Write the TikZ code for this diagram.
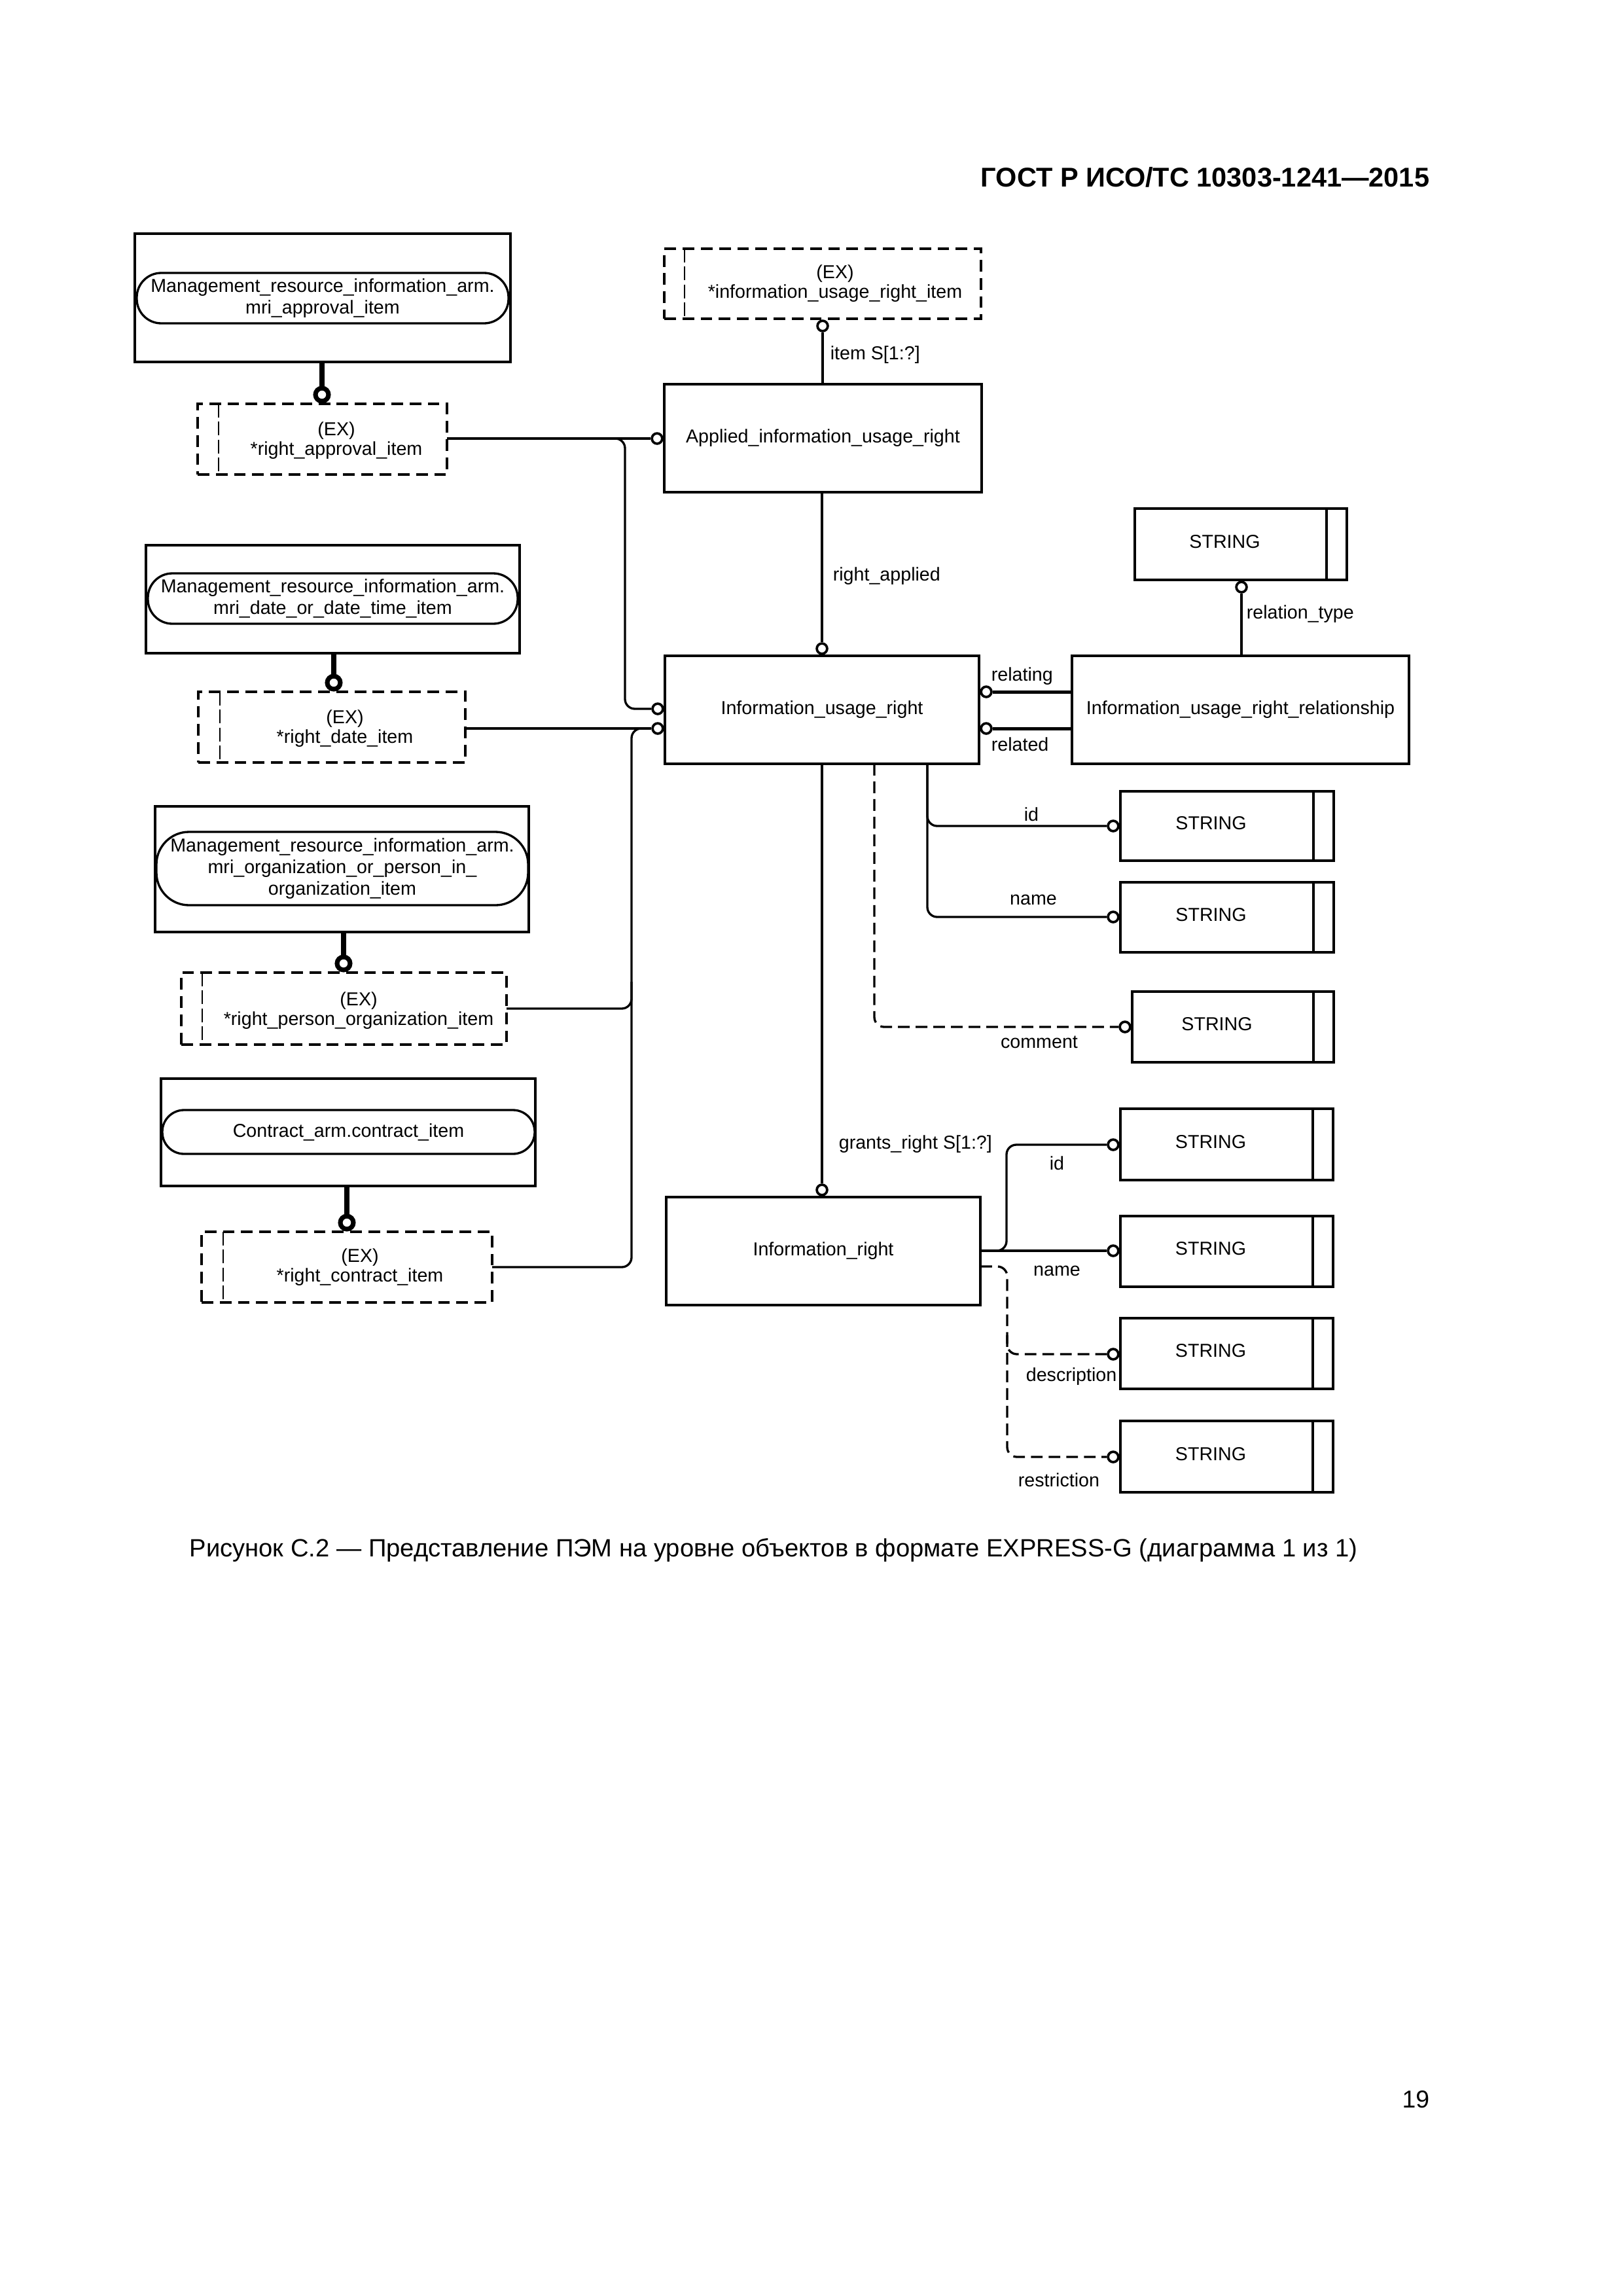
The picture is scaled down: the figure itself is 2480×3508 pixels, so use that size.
\documentclass[tikz,border=0pt]{standalone}
\usepackage{fontspec}
\setmainfont{Liberation Sans}
\usetikzlibrary{calc}
\newcommand\dgf{\fontsize{6.9}{8}\selectfont}
\newcommand\exf{\fontsize{6.9}{7.2}\selectfont}
\def\PX{0.0846667mm}
\newcommand\entbox[7][]{%
  \node[ent,#1,minimum width={(#5-#3)*\PX},minimum height={(#6-#4)*\PX}] (#2) at ({(#3+#5)/2},{(#4+#6)/2}) {#7};}
\newcommand\strbox[5]{%
  \node[ent,minimum width={(#4-#2)*\PX},minimum height={(#5-#3)*\PX}] (#1) at ({(#2+#4)/2},{(#3+#5)/2}) {};
  \draw[ln] ($(#1.north east)+(-31,0)$) -- ($(#1.south east)+(-31,0)$);
  \node[lbl] (#1t) at ({(#2+#4-31)/2-9},{(#3+#5)/2-4}) {STRING};}
\newcommand\exbox[9]{%
  \node[exb,minimum width={(#4-#2)*\PX},minimum height={(#5-#3)*\PX}] (#1) at ({(#2+#4)/2},{(#3+#5)/2}) {};
  \draw[inl] ($(#1.north west)+(#6,0)$) -- ($(#1.south west)+(#6,0)$);
  \node[lbl,align=center,font=\exf] (#1t) at (#7,#8) {#9};}
\begin{document}
\begin{tikzpicture}[x=0.0846667mm,y=-0.0846667mm,
  ln/.style={line width=0.8pt},
  ent/.style={draw,line width=0.8pt,rectangle,inner sep=0pt,outer sep=0pt,font=\dgf,align=center},
  pill/.style={rounded corners=9pt},
  exb/.style={draw,line width=0.8pt,dash pattern=on 4.3pt off 2.4pt,rectangle,inner sep=0pt,outer sep=0pt},
  inl/.style={line width=0.45pt,dash pattern=on 5pt off 1.6pt},
  oc/.style={circle,draw,line width=0.9pt,fill=white,minimum size=3.8pt,inner sep=0pt},
  tc/.style={circle,draw,line width=1.7pt,fill=white,minimum size=4.8pt,inner sep=0pt},
  thk/.style={line width=2pt},
  rel/.style={line width=1.2pt},
  dsh/.style={line width=0.8pt,dash pattern=on 4.3pt off 2.2pt},
  lbl/.style={font=\dgf,inner sep=0pt},
  rc/.style={rounded corners=3.6pt}]
\fill[white] (0,0) rectangle (2480,3508);
\useasboundingbox (0,0) rectangle (2480,3508);

% header, caption, page number
\node[font=\fontsize{10}{12}\selectfont\bfseries,anchor=base east,inner sep=0pt] (hdr) at (2185,285) {ГОСТ Р ИСО/ТС 10303-1241—2015};
\node[font=\fontsize{9.2}{11}\selectfont,anchor=base,inner sep=0pt] (cap) at (1182,2378) {Рисунок С.2 — Представление ПЭМ на уровне объектов в формате EXPRESS-G (диаграмма 1 из 1)};
\node[font=\fontsize{9}{11}\selectfont,anchor=base east,inner sep=0pt] (pg) at (2185,3220) {19};

% left column: referenced select types
\entbox{mri1}{206}{357}{780}{553}{}
\entbox[pill]{p1}{209}{417}{777}{494}{Management\_resource\_information\_arm.\\mri\_approval\_item}
\entbox{mri2}{223}{833}{794}{998}{}
\entbox[pill]{p2}{226}{876}{791}{953}{Management\_resource\_information\_arm.\\mri\_date\_or\_date\_time\_item}
\entbox{mri3}{237}{1232}{808}{1424}{}
\entbox[pill,rounded corners=12pt]{p3}{239}{1271}{807}{1383}{Management\_resource\_information\_arm.\\mri\_organization\_or\_person\_in\_\\organization\_item}
\entbox{mri4}{246}{1648}{818}{1812}{}
\entbox[pill,rounded corners=8pt]{p4}{248}{1696}{817}{1763}{Contract\_arm.contract\_item}

\exbox{ex1}{302}{617}{683}{725}{32}{514}{673}{(EX)\\*right\_approval\_item}
\exbox{ex2}{303}{1057}{711}{1165}{33}{527}{1113}{(EX)\\*right\_date\_item}
\exbox{ex3}{277}{1486}{774}{1596}{32}{548}{1544}{(EX)\\*right\_person\_organization\_item}
\exbox{ex4}{308}{1882}{752}{1990}{33}{550}{1936}{(EX)\\*right\_contract\_item}

\node[tc] (t1) at (492,603) {};
\node[tc] (t2) at (510,1043) {};
\node[tc] (t3) at (525,1472) {};
\node[tc] (t4) at (530,1868) {};
\draw[thk] (t1 |- mri1.south) -- (t1);
\draw[thk] (t2 |- mri2.south) -- (t2);
\draw[thk] (t3 |- mri3.south) -- (t3);
\draw[thk] (t4 |- mri4.south) -- (t4);

% main entities
\exbox{exR}{1015}{380}{1499}{487}{31}{1276}{433}{(EX)\\*information\_usage\_right\_item}
\entbox{app}{1015}{587}{1500}{752}{Applied\_information\_usage\_right}
\entbox{iur}{1016}{1002}{1496}{1167}{Information\_usage\_right}
\entbox{iurr}{1638}{1002}{2153}{1167}{Information\_usage\_right\_relationship}
\entbox{ir}{1018}{1829}{1498}{1994}{Information\_right}

\strbox{sRT}{1734}{777}{2058}{886}
\strbox{sID1}{1712}{1209}{2038}{1315}
\strbox{sNM1}{1712}{1348}{2038}{1455}
\strbox{sCM}{1730}{1515}{2038}{1623}
\strbox{sID2}{1712}{1694}{2037}{1803}
\strbox{sNM2}{1712}{1858}{2037}{1966}
\strbox{sDS}{1712}{2014}{2037}{2122}
\strbox{sRS}{1712}{2171}{2037}{2280}

% small circles
\node[oc] (cR) at (1257,498) {};
\node[oc] (cA) at (1004,670) {};
\node[oc] (cU1) at (1005,1083) {};
\node[oc] (cU2) at (1005,1113) {};
\node[oc] (cRA) at (1256,991) {};
\node[oc] (cRT) at (1897,897) {};
\node[oc] (cRL1) at (1507,1057) {};
\node[oc] (cRL2) at (1507,1113) {};
\node[oc] (cID1) at (1701,1262) {};
\node[oc] (cNM1) at (1701,1401) {};
\node[oc] (cCM) at (1719,1569) {};
\node[oc] (cGR) at (1256,1818) {};
\node[oc] (cID2) at (1701,1749) {};
\node[oc] (cNM2) at (1701,1911) {};
\node[oc] (cDS) at (1701,2069) {};
\node[oc] (cRS) at (1701,2226) {};

% junction coordinates
\coordinate (j1) at (925,670);
\coordinate (j2) at (955,1083);
\coordinate (j3) at (988,1113);
\coordinate (j4) at (965,1936);
\coordinate (j5) at (965,1500);
\coordinate (b2) at (1336,1167);
\coordinate (b3) at (1417,1167);
\coordinate (k1) at (1538,1749);
\coordinate (k2) at (1498,1935);
\coordinate (k3) at (1539,2069);
\coordinate (k4) at (1539,2040);

% select-type connectors
\draw[ln] (ex1.east |- cA) -- (cA);
\draw[ln,rc] (j1) -| (j2) -- (cU1);
\draw[ln] (ex2.east |- cU2) -- (cU2);
\draw[ln,rc] (j3) -| (j4) -- (ex4.east);
\draw[ln,rc] (ex3.east) -| (j5);

% attribute connectors
\draw[ln] (cR) -- (cR |- app.north);
\node[lbl,anchor=west] (lit) at (1268,542) {item S[1:?]};
\draw[ln] (app.south -| cRA) -- (cRA);
\node[lbl,anchor=west] (lra) at (1272,880) {right\_applied};
\draw[ln] (cRT) -- (cRT |- iurr.north);
\node[lbl,anchor=west] (lrt) at (1904,938) {relation\_type};
\draw[rel] (iurr.west |- cRL1) -- (cRL1);
\node[lbl,anchor=west] (lrl) at (1514,1033) {relating};
\draw[rel] (iurr.west |- cRL2) -- (cRL2);
\node[lbl,anchor=west] (lrd) at (1514,1137) {related};

\draw[ln,rc] (b3) |- (cID1);
\draw[ln,rc] (b3) |- (cNM1);
\node[lbl] (lid1) at (1576,1244) {id};
\node[lbl] (lnm1) at (1579,1375) {name};
\draw[dsh,rc] (b2) |- (cCM);
\node[lbl] (lcm) at (1588,1592) {comment};

\draw[ln] (iur.south -| cGR) -- (cGR);
\node[lbl,anchor=west] (lgr) at (1281,1748) {grants\_right S[1:?]};

\draw[ln,rc] (ir.east |- cNM2) -| (k1) -- (cID2);
\draw[ln] (ir.east |- cNM2) -- (cNM2);
\node[lbl] (lid2) at (1615,1777) {id};
\node[lbl] (lnm2) at (1615,1942) {name};
\draw[dsh,rc] (k2) -| (k3) -- (cDS);
\draw[dsh,rc] (k4) |- (cRS);
\node[lbl,anchor=west] (lds) at (1567,2103) {description};
\node[lbl] (lrs) at (1618,2261) {restriction};
\end{tikzpicture}
\end{document}
